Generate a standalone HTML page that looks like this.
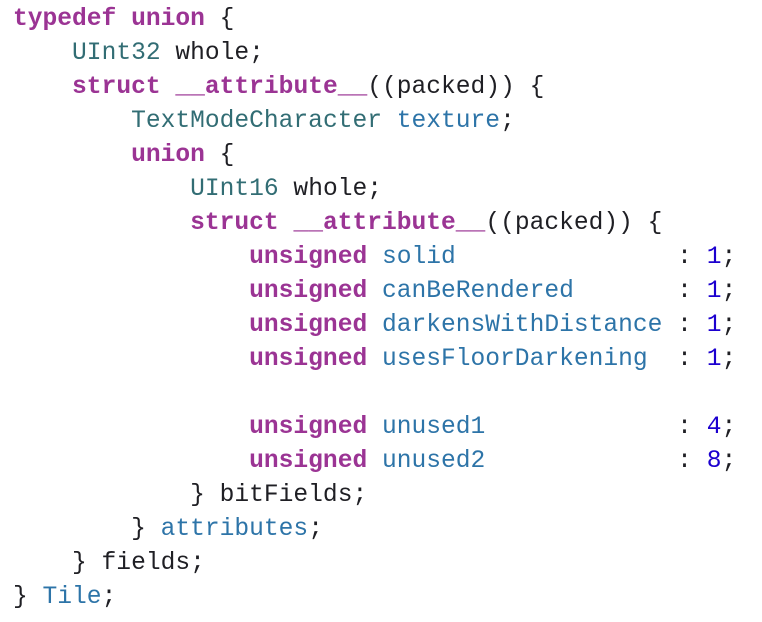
<!DOCTYPE html>
<html><head><meta charset="utf-8"><style>
html,body{margin:0;padding:0;background:#fff;width:762px;height:622px;overflow:hidden}
pre{margin:0;padding:3px 0 0 13px;font-family:"Liberation Mono",monospace;font-size:24.6px;line-height:34px;color:#1f1f24}
.k{color:#9b3494;font-weight:bold}
.t{color:#326d74}
.p{color:#2d74a8}
.n{color:#1c00cf}
</style></head><body>
<pre><span class="k">typedef</span> <span class="k">union</span> {
    <span class="t">UInt32</span> whole;
    <span class="k">struct</span> <span class="k">__attribute__</span>((packed)) {
        <span class="t">TextModeCharacter</span> <span class="p">texture</span>;
        <span class="k">union</span> {
            <span class="t">UInt16</span> whole;
            <span class="k">struct</span> <span class="k">__attribute__</span>((packed)) {
                <span class="k">unsigned</span> <span class="p">solid</span>               : <span class="n">1</span>;
                <span class="k">unsigned</span> <span class="p">canBeRendered</span>       : <span class="n">1</span>;
                <span class="k">unsigned</span> <span class="p">darkensWithDistance</span> : <span class="n">1</span>;
                <span class="k">unsigned</span> <span class="p">usesFloorDarkening</span>  : <span class="n">1</span>;

                <span class="k">unsigned</span> <span class="p">unused1</span>             : <span class="n">4</span>;
                <span class="k">unsigned</span> <span class="p">unused2</span>             : <span class="n">8</span>;
            } bitFields;
        } <span class="p">attributes</span>;
    } fields;
} <span class="p">Tile</span>;
</pre>
</body></html>
